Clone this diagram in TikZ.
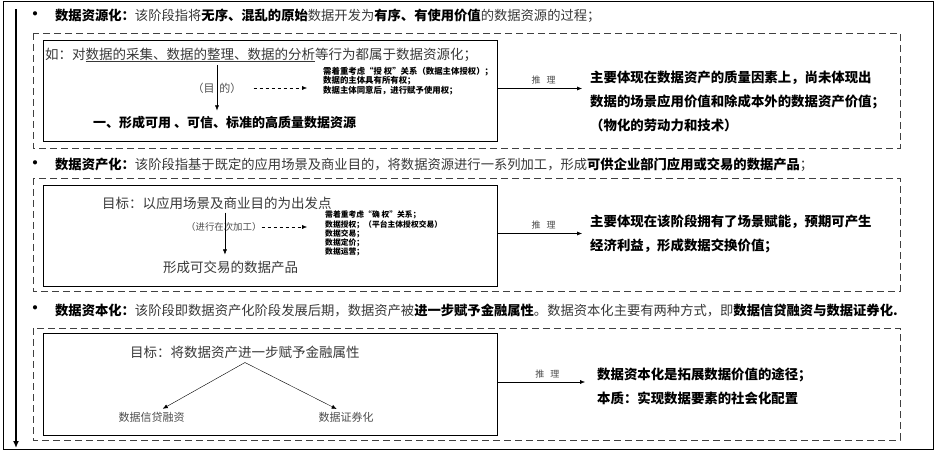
\documentclass[tikz,border=0pt]{standalone}
\usepackage{fontspec}
\setmainfont{Noto Sans CJK SC}
\usetikzlibrary{arrows.meta}
\newcommand\hi[1]{{\bfseries\color{black}#1}}

\begin{document}
\begin{tikzpicture}[x=1pt, y=-1pt, inner sep=0pt,
  head/.style={anchor=west, text=black!78, font=\fontsize{13.3}{16}\selectfont},
  body/.style={anchor=west, text=black!78, font=\fontsize{13.5}{16}\selectfont},
  small/.style={text=black!70, font=\fontsize{9}{10}\selectfont},
  note/.style={anchor=west, align=left, font=\fontsize{8.4}{8.4}\selectfont\bfseries},
  concl/.style={anchor=west, align=left, font=\fontsize{13.4}{24}\selectfont\bfseries},
  panel/.style={draw, line width=0.9pt, minimum width=454, minimum height=101},
  tip/.style={-{Latex[length=5pt,width=4pt]}}]
\useasboundingbox (0,0) rectangle (938,457);
% outer frame and time line
\draw[line width=0.8pt] (3,1) rectangle (933,449);
\coordinate (top) at (16,9);
\coordinate (bot) at (16,448);
\draw[line width=2.2pt, -{Latex[length=7pt,width=6pt]}] (top) -- (bot);
% dashed frames
\foreach \t/\b in {33/148,178/291,328/440}
  \draw[black!75, line width=0.8pt, dash pattern=on 7pt off 4pt] (33,\t) rectangle (900,\b);
% headers
\foreach \y in {16,165,310} \node[font=\fontsize{15}{15}\selectfont\bfseries] at (35,\y) {•};
\node[head] (h1) at (55,16) {\hi{数据资源化：}该阶段指将\hi{无序、混乱的原始}数据开发为\hi{有序、有使用价值}的数据资源的过程；};
\node[head] (h2) at (55,165) {\hi{数据资产化：}该阶段指基于既定的应用场景及商业目的，将数据资源进行一系列加工，形成\hi{可供企业部门应用或交易的数据产品}；};
\node[head] (h3) at (55,310) {\hi{数据资本化：}该阶段即数据资产化阶段发展后期，数据资产被\hi{进一步赋予金融属性}。数据资本化主要有两种方式，即\hi{数据信贷融资与数据证券化.}};
% panels
\node[panel] (box1) at (270,90.5) {};
\node[panel] (box2) at (270,235.5) {};
\node[panel, minimum height=102] (box3) at (270.5,384) {};
% stage 1
\node[body] (eg1) at (45,55) {如：对\underline{数据的采集、数据的整理、数据的分析}等行为都属于数据资源化；};
\node[body, text=black, font=\fontsize{13}{16}\selectfont\bfseries] (res1) at (93,123) {一、形成可用 、可信、标准的高质量数据资源};
\node[small, font=\fontsize{11}{12}\selectfont] (aim1) at (217,88) {（目\hspace{5pt}的）};
\node[note] (note1) at (323,81) {需着重考虑“授 权”关系（数据主体授权）；\\数据的主体具有所有权；\\数据主体同意后，进行赋予使用权；};
\draw[tip, shorten <=3pt, shorten >=6pt] (eg1.south -| aim1) -- (res1.north -| aim1);
\draw[dashed, tip, shorten <=12pt, shorten >=16pt] (aim1.east) -- (aim1.east -| note1.west);
% stage 2
\node[body] (aim2) at (102,203) {目标：以应用场景及商业目的为出发点};
\node[body] (res2) at (163,267) {形成可交易的数据产品};
\node[small, anchor=west, font=\fontsize{9.4}{10}\selectfont] (step2) at (186,227) {（进行在次加工）};
\node[note, font=\fontsize{7.8}{7.5}\selectfont\bfseries] (note2) at (325,233.5) {需着重考虑“确 权”关系；\\数据授权；（平台主体授权交易）\\数据交易；\\数据定价；\\数据运营；};
\draw[tip, shorten <=3pt, shorten >=6pt] ([xshift=8pt]aim2.south) -- ([xshift=8pt]aim2.south |- res2.north);
\draw[dashed, tip, shorten >=18pt] (step2.east) -- (step2.east -| note2.west);
% stage 3
\node[body] (aim3) at (130,352) {目标：将数据资产进一步赋予金融属性};
\node[small, font=\fontsize{11}{12}\selectfont] (fin1) at (151.5,417) {数据信贷融资};
\node[small, font=\fontsize{11}{12}\selectfont] (fin2) at (346,417) {数据证券化};
\draw[tip, shorten >=6pt] ([yshift=-4pt]aim3.south) -- ([xshift=6pt]fin1.north);
\draw[tip, shorten >=6pt] ([yshift=-4pt]aim3.south) -- ([xshift=-4pt]fin2.north);
% conclusions
\node[concl] (con1) at (590,101) {主要体现在数据资产的质量因素上，尚未体现出\\数据的场景应用价值和除成本外的数据资产价值；\\（物化的劳动力和技术）};
\node[concl] (con2) at (590,233.5) {主要体现在该阶段拥有了场景赋能，预期可产生\\经济利益，形成数据交换价值；};
\node[concl] (con3) at (597,386.5) {数据资本化是拓展数据价值的途径；\\本质：实现数据要素的社会化配置};
\foreach \i/\s in {1/8,2/8,3/12}
  \draw[tip, shorten >=\s pt] ([yshift=2pt]box\i.east) -- ([yshift=2pt]box\i.east -| con\i.west)
    node[small, midway, above=4pt] {推\hspace{6pt}理};
\end{tikzpicture}
\end{document}
